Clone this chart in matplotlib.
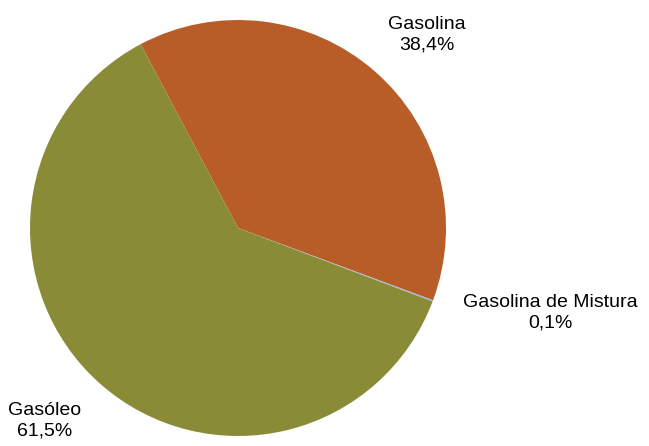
import matplotlib
matplotlib.use("Agg")
import matplotlib.pyplot as plt

# dados do gráfico
categorias = ["Gasolina", "Gasolina de Mistura", "Gasóleo"]
percentagens = [38.4, 0.1, 61.5]
rotulos = ["38,4%", "0,1%", "61,5%"]
cores = ["#B85D28", "#9DB9D3", "#8A8B37"]

plt.rcParams['font.family'] = ['Liberation Sans', 'DejaVu Sans']

fig = plt.figure(figsize=(6.49, 4.46), dpi=100)
ax = fig.add_axes([0, 0, 1, 1])

# centro em (238, 228) px, raio 208 px
cx, cy, r = 238, 228, 208
ax.pie(percentagens, colors=cores, startangle=117.9, counterclock=False,
       radius=1, center=(0, 0), wedgeprops=dict(linewidth=0))

ax.set_xlim(-cx / r, (649 - cx) / r)
ax.set_ylim(-(446 - cy) / r, cy / r)
ax.set_aspect('equal')
ax.axis('off')

# posições dos rótulos (px) convertidas para coordenadas dos dados
pos_rotulos = [(427, 35), (550, 313), (45, 421)]
for nome, txt, (px, py) in zip(categorias, rotulos, pos_rotulos):
    x = (px - cx) / r
    y = (cy - py) / r
    ax.text(x, y, nome + "\n" + txt, ha='center', va='center',
            fontsize=14, linespacing=1.3, color='black')

fig.savefig("out.png", dpi=100)
